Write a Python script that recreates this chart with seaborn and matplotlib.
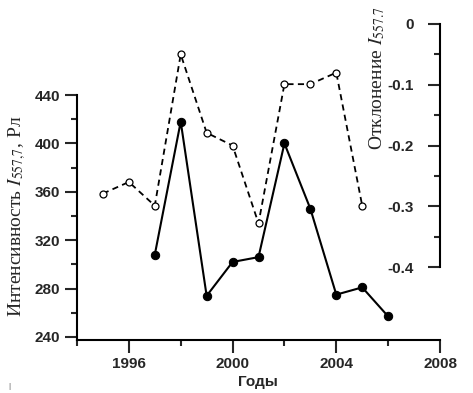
import numpy as np
import pandas as pd
import matplotlib
matplotlib.use('Agg')
import matplotlib.pyplot as plt
import seaborn as sns

# intensity I557.7 (left axis), filled markers
years_int = [1997, 1998, 1999, 2000, 2001, 2002, 2003, 2004, 2005, 2006]
intensity = [308, 418, 274, 302, 306, 400, 346, 275, 281, 257]

# deviation I557.7 (right axis), open markers
years_dev = [1995, 1996, 1997, 1998, 1999, 2000, 2001, 2002, 2003, 2004, 2005]
deviation = [-0.279, -0.260, -0.299, -0.050, -0.179, -0.200, -0.328, -0.099, -0.099, -0.080, -0.299]

left_ticks = [240, 280, 320, 360, 400, 440]
right_ticks = [0, -0.1, -0.2, -0.3, -0.4]
x_ticks = [1996, 2000, 2004, 2008]

sns.set_style('ticks')
plt.rcParams['font.family'] = ['Liberation Sans', 'DejaVu Sans']
plt.rcParams['mathtext.fontset'] = 'stix'

df_int = pd.DataFrame({'year': years_int, 'value': intensity})
df_dev = pd.DataFrame({'year': years_dev, 'value': deviation})

fig = plt.figure(figsize=(4.73, 3.93), dpi=100)
ax1 = fig.add_axes([77/473, 1-340/393, 363/473, 316/393])
ax2 = ax1.twinx()

sns.lineplot(data=df_int, x='year', y='value', ax=ax1, color='black', lw=1.5,
             marker='o', ms=6, mfc='black', mec='black', legend=False)
sns.lineplot(data=df_dev, x='year', y='value', ax=ax2, color='black', lw=1.3,
             marker='o', ms=5, mfc='white', mec='black', mew=0.9, legend=False)
ax2.lines[0].set_dashes([3.4, 2.4])

ax1.set_xlim(1994, 2008)
ax1.set_ylim(237.5, 498.7)
ax2.set_ylim(-0.52, 0)

for ax in (ax1, ax2):
    for s in ax.spines.values():
        s.set_linewidth(1.5)
        s.set_color('black')
    ax.spines['top'].set_visible(False)

ax1.spines['right'].set_visible(False)
ax2.spines['left'].set_visible(False)
ax2.spines['bottom'].set_visible(False)
ax1.spines['left'].set_bounds(237.5, 440)
ax2.spines['right'].set_bounds(-0.4, 0)

ax1.set_xticks(x_ticks)
ax1.set_xticks([1994, 1998, 2002, 2006], minor=True)
ax1.set_yticks(left_ticks)
ax1.set_yticks([260, 300, 340, 380, 420], minor=True)
ax2.set_yticks(right_ticks)
ax2.set_yticks(np.arange(-0.35, 0, 0.1), minor=True)

ax1.set_xticklabels([str(x) for x in x_ticks], fontweight='bold', fontsize=11)
ax1.set_yticklabels([str(v) for v in left_ticks], fontweight='bold', fontsize=11)
ax2.set_yticklabels(['0', '-0.1', '-0.2', '-0.3', '-0.4'], fontweight='bold', fontsize=11)

ax1.tick_params(axis='both', which='major', length=9, width=1.5, direction='out', pad=3)
ax1.tick_params(axis='both', which='minor', length=4.5, width=1.5, direction='out')
ax2.tick_params(axis='y', which='major', length=9, width=1.5, direction='in', pad=-19)
ax2.tick_params(axis='y', which='minor', length=4.5, width=1.5, direction='in')
for t in ax2.yaxis.get_major_ticks():
    t.label2.set_horizontalalignment('right')

ax1.set_xlabel('')
ax1.set_ylabel('')
ax2.set_ylabel('')

fig.text(258/473, 1-382/393, 'Годы', ha='center', va='center', fontsize=11, fontweight='bold')
fig.text(17/473, 1-216/393, 'Интенсивность $I_{557{,}7}$, Рл', rotation=90,
         ha='center', va='center', fontsize=14, family='Liberation Serif')
fig.text(377/473, 1-78/393, 'Отклонение $I_{557.7}$', rotation=90,
         ha='center', va='center', fontsize=14, family='Liberation Serif')
fig.text(9/473, 1-387/393, '|', ha='center', va='center', fontsize=6, color='#555555')

fig.savefig('out.png', dpi=100)
